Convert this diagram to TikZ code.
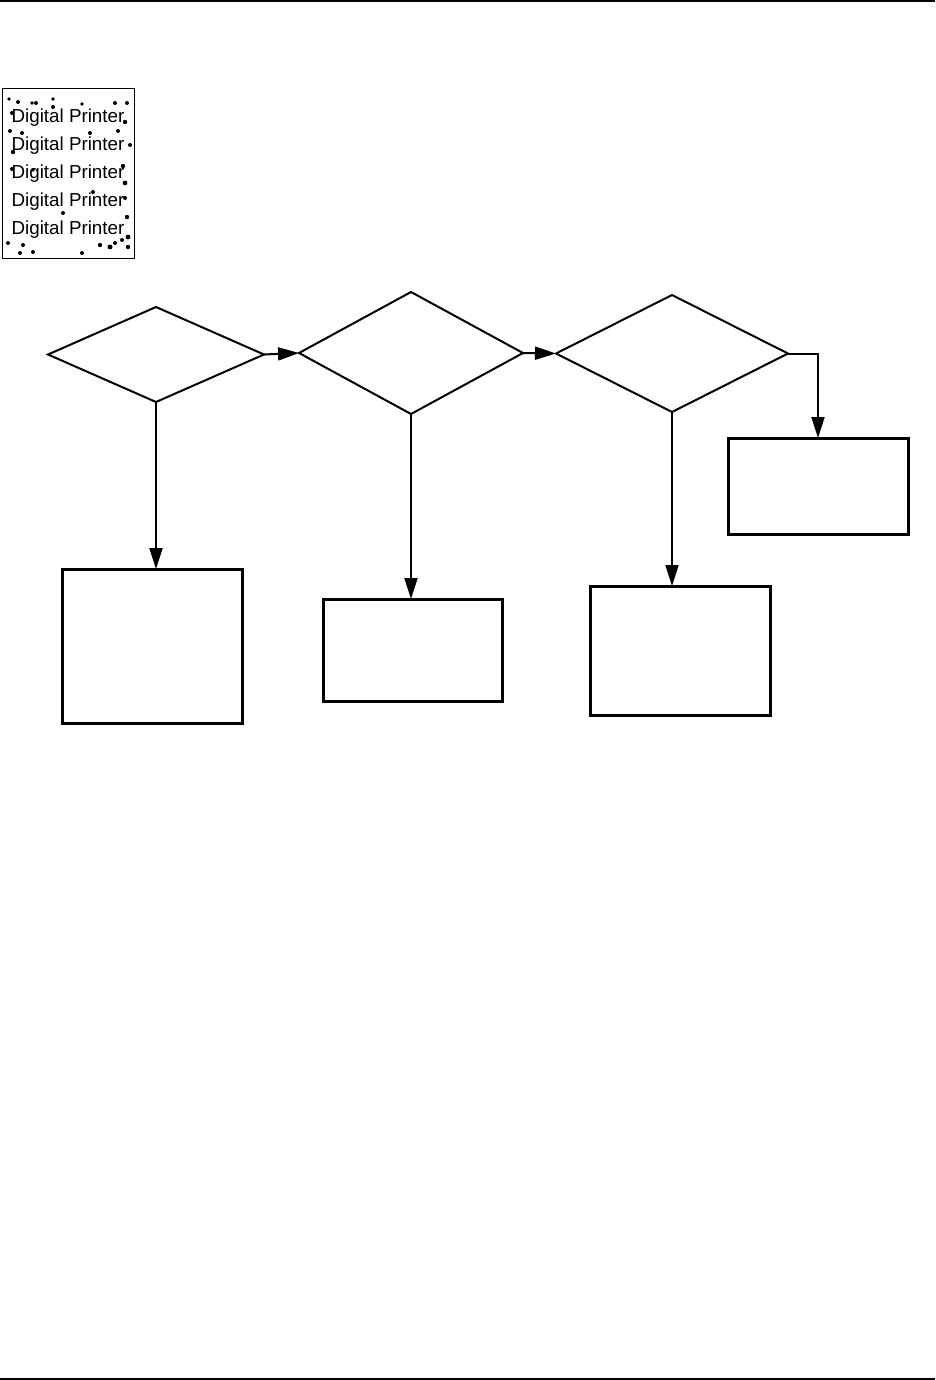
\documentclass[tikz,border=0pt]{standalone}
\usepackage{fontspec}
\setmainfont{Liberation Sans}
\usetikzlibrary{shapes.geometric,arrows.meta}
\tikzset{
  dec/.style={diamond,draw,line width=2pt,inner sep=0pt,outer sep=0pt},
  stepbox/.style={rectangle,draw,line width=3pt,inner sep=0pt,outer sep=0pt},
  conn/.style={line width=2pt,-{Triangle[length=21pt,width=13pt]}},
  rule/.style={line width=2.2pt},
  dot/.style={fill=black},
  prt/.style={font=\fontsize{18.8pt}{20pt}\selectfont,inner sep=0pt,text=black}
}
\begin{document}
\begin{tikzpicture}[x=1pt,y=-1pt]
\useasboundingbox (0,0) rectangle (935,1380);
% page rules
\draw[rule] (0,1) -- (935,1);
\draw[rule] (0,1379) -- (935,1379);
% logo picture
\node[draw,line width=1pt,minimum width=132pt,minimum height=169pt,inner sep=0pt] (img) at (68,173.5) {};
\foreach \yy/\nm in {118/p1,146/p2,174/p3,202/p4,230/p5}
  \node[prt] (\nm) at (68,\yy) {Digital Printer};
\foreach \px/\py/\r in {9/99/1.8,18/102/2,32/103/1.8,36/103/2,53/99/1.8,53/107/2,82/104/1.8,115/103/2,127/103/2,
  12/113/2,125/122/2.2,10/131/2,22/133/2,90/133/2,118/131/2,130/145/2,13/152/2.2,12/169/2,33/170/1.8,
  123/166/2.2,125/183/2.4,93/192/2,125/198/2,63/213/2,127/217/2.2,128/237/2.4,8/243/2,23/245/2,20/253/2,
  33/252/2,82/253/2,100/245/2.2,110/247/2.5,115/243/2,128/247/2.2,122/240/2}
  \fill[dot] (\px,\py) circle (\r);
% decisions
\node[dec,minimum width=216pt,minimum height=95pt] (d1) at (156,354.5) {};
\node[dec,minimum width=224pt,minimum height=122pt] (d2) at (411,353) {};
\node[dec,minimum width=232pt,minimum height=117pt] (d3) at (672,353.5) {};
% boxes
\node[stepbox,minimum width=180pt,minimum height=154pt] (b1) at (152,646) {};
\node[stepbox,minimum width=179pt,minimum height=102pt] (b2) at (412.5,650) {};
\node[stepbox,minimum width=180pt,minimum height=129pt] (b3) at (680,650.5) {};
\node[stepbox,minimum width=180pt,minimum height=96pt] (b4) at (818,486) {};
% connectors
\draw[conn] (d1.east) -- (d2.west);
\draw[conn] (d2.east) -- (d3.west);
\draw[conn] (d3.east) -| (b4.north);
\draw[conn] (d1.south) -- (d1.south |- b1.north);
\draw[conn] (d2.south) -- (d2.south |- b2.north);
\draw[conn] (d3.south) -- (d3.south |- b3.north);
\end{tikzpicture}
\end{document}
